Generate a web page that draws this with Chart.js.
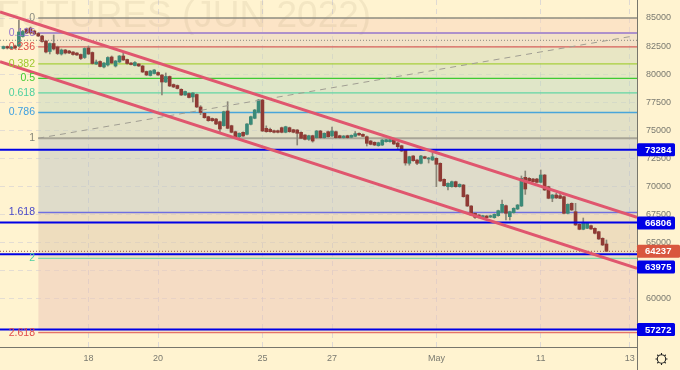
<!DOCTYPE html>
<html>
<head>
<meta charset="utf-8">
<script src="https://cdn.jsdelivr.net/npm/chart.js@4"></script>
<style>
  html, body { margin: 0; padding: 0; background: #fff3d0; }
  canvas { display: block; }
</style>
</head>
<body>
<canvas id="chart" width="680" height="370"></canvas>
<script>
const candleOpen = [
  82286, 82464, 82286, 82508, 82508, 83353, 84021, 84110, 83843, 83620,
  83398, 82953, 82018, 82730, 82419, 81796, 82152, 82063, 81974, 81885,
  81752, 81484, 82330, 81930, 80906, 81129, 80639, 80817, 81529, 80728,
  81084, 81618, 81306, 80995, 80772, 80906, 80728, 80238, 79882, 80060,
  80150, 79927, 79304, 79794, 79082, 78993, 78654, 78147, 78280, 77969,
  78192, 77079, 76518, 76216, 76056, 76011, 75771, 75415, 76723, 75415,
  74881, 74436, 74827, 74649, 75539, 76073, 76607, 77702, 75183, 75094,
  74970, 74970, 75237, 74827, 75237, 75059, 75032, 74827, 74587, 74205,
  74525, 74347, 74943, 74347, 74881, 74498, 74881, 74525, 74347, 74525,
  74382, 74471, 74738, 74649, 74436, 74053, 73937, 73635, 73697, 73991,
  73991, 74142, 73875, 73635, 73252, 72068, 72718, 72362, 72068, 72656,
  72451, 72362, 72513, 72068, 70644, 69986, 69986, 70431, 69986, 70137,
  69247, 68268, 67618, 67467, 67227, 67378, 67289, 67227, 67405, 67707,
  68295, 67316, 67672, 68001, 68268, 70822, 70733, 70671, 70671, 70377,
  71027, 69986, 68953, 69247, 69185, 69096, 67618, 68508, 67761, 66639,
  66194, 66283, 66515, 66283, 65980, 65393, 64886
];
const candleClose = [
  82464, 82330, 82419, 82330, 83754, 83800, 83665, 83665, 83576, 83398,
  82909, 81974, 82730, 82241, 81841, 82152, 81885, 81885, 81752, 81707,
  81395, 82286, 81796, 80950, 81084, 80684, 80995, 81484, 80995, 81173,
  81618, 81262, 80950, 80862, 81040, 80728, 80194, 79927, 80283, 80372,
  79927, 79304, 79794, 78948, 78859, 78726, 78147, 78459, 77925, 78325,
  77079, 76590, 76127, 75860, 75860, 75566, 75121, 76661, 75183, 74827,
  74436, 74738, 74498, 75566, 76216, 76812, 77702, 74943, 74881, 74881,
  74827, 74827, 74827, 75326, 74881, 74827, 74738, 74293, 74205, 74525,
  74053, 74943, 74347, 74738, 74436, 74943, 74347, 74347, 74498, 74347,
  74560, 74703, 74587, 74471, 73848, 73759, 73697, 73902, 74142, 74169,
  74169, 73786, 73546, 73163, 72095, 72656, 72300, 72068, 72718, 72513,
  72540, 72656, 71979, 70493, 70075, 70288, 70431, 69986, 70199, 69096,
  68268, 67467, 67262, 67289, 67405, 67227, 67405, 67529, 67850, 68419,
  67618, 67761, 68063, 68357, 70733, 69781, 70493, 70431, 70377, 71027,
  69692, 68953, 69247, 68987, 68953, 67618, 68419, 67912, 66577, 66194,
  66817, 66728, 66221, 65838, 65331, 64797, 64237
];
const candleHigh = [
  82508, 82510, 82464, 82600, 84822, 83900, 84110, 84200, 83930, 83700,
  83450, 83000, 82780, 83487, 82500, 82240, 82200, 82130, 82020, 81930,
  81800, 82350, 82508, 81980, 81262, 81180, 81040, 81550, 81620, 81220,
  81660, 81885, 81350, 81040, 81130, 80950, 80770, 80280, 80330, 80420,
  80200, 79970, 80105, 79840, 79130, 79040, 78700, 78500, 78330, 78370,
  78240, 77200, 76560, 76260, 76100, 76060, 75820, 76710, 77551, 75460,
  74930, 74780, 74870, 75610, 76260, 76860, 77750, 77750, 75400, 75200,
  75020, 75020, 75290, 75370, 75290, 75100, 75080, 74870, 74630, 74570,
  74570, 74990, 75000, 74780, 74930, 75300, 74930, 74570, 74540, 74570,
  74600, 74900, 74790, 74700, 74500, 74100, 73980, 73950, 74190, 74210,
  74300, 74190, 73950, 73680, 73300, 72700, 72760, 72410, 72770, 72700,
  72590, 73000, 72560, 72110, 70690, 70330, 70480, 70480, 70240, 70190,
  69290, 68310, 67660, 67510, 67450, 67420, 67450, 67570, 67900, 68802,
  68340, 67810, 68110, 68400, 70938, 71383, 70800, 70720, 70720, 71472,
  71070, 70030, 69290, 69400, 69400, 69140, 68460, 68550, 68508, 66680,
  67200, 66770, 66560, 66330, 66020, 65440, 65242
];
const candleLow = [
  82241, 82240, 82240, 82240, 82419, 83300, 83600, 83600, 83500, 83350,
  82850, 81890, 81800, 82150, 81750, 81700, 81800, 81830, 81700, 81660,
  81300, 81400, 81750, 80900, 80860, 80640, 80550, 80720, 80950, 80640,
  81040, 81220, 80900, 80820, 80730, 80680, 80150, 79880, 79840, 80020,
  79880, 78147, 79260, 78900, 78810, 78680, 78100, 78100, 77880, 77524,
  77030, 76400, 76080, 75810, 75800, 75500, 74800, 75370, 75140, 74780,
  74390, 74300, 74450, 74600, 75490, 76030, 76560, 74900, 74830, 74830,
  74780, 74780, 74780, 74780, 74830, 74780, 73697, 74250, 74160, 74110,
  73950, 74300, 74300, 74300, 74390, 74450, 74300, 74300, 74300, 74300,
  74340, 74430, 74540, 74430, 73608, 73710, 73650, 73590, 73650, 73950,
  73950, 73740, 73300, 73120, 71900, 71900, 72250, 71950, 72020, 72470,
  72095, 72320, 69986, 70450, 70030, 69692, 69940, 69940, 69940, 69050,
  68220, 67420, 67170, 67200, 67180, 67180, 67240, 67180, 67360, 67660,
  67022, 67022, 67630, 67950, 68220, 69300, 70450, 70390, 70330, 70330,
  69650, 68910, 68650, 68940, 68910, 67570, 67570, 67870, 66530, 66150,
  66150, 66240, 66180, 65790, 65290, 64750, 64200
];

const fibLevels = ['0', '0.125', '0.236', '0.382', '0.5', '0.618', '0.786', '1', '1.618', '2', '2.618'];
const fibPrices = [85000, 83663, 82425, 80913, 79620, 78340, 76590, 74300, 67691, 63604, 56993];
const fibLineColors = ['#8f8d80', '#9575cd', '#d9605a', '#a8cf3c', '#3fcb32', '#62d6a4', '#49a5da', '#a8a597', '#6f6fe0', '#80d9aa', '#e57368'];
const fibTextColors = ['#8a8a80', '#9575cd', '#df5048', '#a0c830', '#42cc32', '#4fd0a0', '#40a0e0', '#858578', '#4848c8', '#4fcfa0', '#e04c4c'];
const fibBands = [
  'rgba(249,213,188,.5)', 'rgba(231,209,192,.5)', 'rgba(209,217,184,.5)', 'rgba(201,219,184,.5)', 'rgba(193,217,192,.5)',
  'rgba(197,213,188,.5)', 'rgba(197,205,188,.5)', 'rgba(191,197,196,.5)', 'rgba(221,199,172,.5)', 'rgba(235,197,184,.5)'
];

const bluePrices = [73284, 66806, 63975, 57272];
const lastPrice = 64237;
const dottedPrice = 83015;

const channelUpper = [[-0.89, 85534], [163.9, 67262]];
const channelLower = [[-0.89, 81111], [163.9, 62723]];
const dashedTrend = [[9, 74300], [163, 83398]];

const xTickIdx = [22, 40, 67, 85, 112, 139, 162];
const xTickLabels = ['18', '20', '25', '27', 'May', '11', '13'];
const yTicks = [60000, 62500, 65000, 67500, 70000, 72500, 75000, 77500, 80000, 82500, 85000];

const xMin = -0.89, xMax = 163.9, fibStart = 9;
const chartFont = '"Liberation Sans", Arial, sans-serif';

const hline = (price, color, width, dash, order, from = xMin) => ({
  type: 'line',
  data: [{ x: from, y: price }, { x: xMax, y: price }],
  borderColor: color,
  borderWidth: width,
  borderDash: dash || [],
  pointRadius: 0,
  fill: false,
  order: order,
});

const seg = (points, color, width, dash, order) => ({
  type: 'line',
  data: points.map((p) => ({ x: p[0], y: p[1] })),
  borderColor: color,
  borderWidth: width,
  borderDash: dash || [],
  pointRadius: 0,
  fill: false,
  order: order,
});

const datasets = [];

fibPrices.forEach((p, i) => {
  const ds = hline(p, fibLineColors[i], i === 7 ? 2 : 1.3, null, 9, fibStart);
  if (i < fibBands.length) {
    ds.fill = '+1';
    ds.backgroundColor = fibBands[i];
  }
  datasets.push(ds);
});

datasets.push({
  type: 'bar',
  data: candleLow.map((l, i) => ({ x: i, y: [l, candleHigh[i]] })),
  backgroundColor: '#8b8678',
  barThickness: 1,
  grouped: false,
  order: 8,
});
datasets.push({
  type: 'bar',
  data: candleOpen.map((o, i) => ({ x: i, y: [o, candleClose[i]] })),
  backgroundColor: candleOpen.map((o, i) => (candleClose[i] >= o ? '#3b8a78' : '#8f3a34')),
  barThickness: 3,
  grouped: false,
  order: 7,
});

datasets.push(hline(dottedPrice, '#8a8a80', 1, [1, 2], 6));
datasets.push(hline(lastPrice, '#9a5a45', 1, [1, 2], 6));
bluePrices.forEach((p) => datasets.push(hline(p, '#0000e6', 2, null, 5)));
datasets.push(seg(dashedTrend, '#a09d92', 1, [6, 5], 4));
datasets.push(seg(channelUpper, '#e0566e', 3, null, 3));
datasets.push(seg(channelLower, '#e0566e', 3, null, 3));

const overlayPlugin = {
  id: 'overlay',
  beforeDatasetsDraw(chart) {
    const ctx = chart.ctx;
    ctx.save();
    ctx.font = '37px ' + chartFont;
    ctx.fillStyle = 'rgba(150,125,90,.11)';
    ctx.textBaseline = 'alphabetic';
    ctx.fillText('FUTURES (JUN 2022)', -3, 27);
    ctx.restore();
  },
  afterDraw(chart) {
    const ctx = chart.ctx;
    const y = chart.scales.y;
    const area = chart.chartArea;

    // fib labels left of the levels
    ctx.save();
    ctx.font = '10.5px ' + chartFont;
    ctx.textAlign = 'right';
    ctx.textBaseline = 'middle';
    fibLevels.forEach((lab, i) => {
      ctx.fillStyle = fibTextColors[i];
      ctx.fillText(lab, 35, y.getPixelForValue(fibPrices[i]));
    });
    ctx.restore();

    // price tags on the axis
    const tag = (price, color, right, shift) => {
      const cy = y.getPixelForValue(price) + shift;
      ctx.fillStyle = color;
      ctx.beginPath();
      ctx.roundRect(area.right, cy - 6.5, right - area.right, 13, 1.5);
      ctx.fill();
      ctx.fillStyle = '#fff';
      ctx.font = 'bold 9.5px ' + chartFont;
      ctx.textAlign = 'left';
      ctx.textBaseline = 'middle';
      ctx.fillText(String(price), area.right + 8, cy + 0.5);
    };
    ctx.save();
    tag(73284, '#0000e6', 675, 0);
    tag(66806, '#0000e6', 675, 0.5);
    tag(57272, '#0000e6', 675, 0);
    tag(lastPrice, '#d9573f', 680, 0);
    tag(63975, '#0000e6', 675, 12.8);
    ctx.restore();

    // axis line carries on under the corner, then the settings wheel
    ctx.save();
    ctx.strokeStyle = '#77766c';
    ctx.lineWidth = 1;
    ctx.beginPath();
    ctx.moveTo(area.right + 0.5, area.bottom);
    ctx.lineTo(area.right + 0.5, 370);
    ctx.stroke();
    const gx = 661.5, gy = 359;
    ctx.strokeStyle = '#222';
    ctx.lineWidth = 1.1;
    ctx.beginPath();
    ctx.arc(gx, gy, 4.2, 0, Math.PI * 2);
    for (let i = 0; i < 8; i++) {
      const a = (i * Math.PI) / 4;
      ctx.moveTo(gx + Math.cos(a) * 4.2, gy + Math.sin(a) * 4.2);
      ctx.lineTo(gx + Math.cos(a) * 6, gy + Math.sin(a) * 6);
    }
    ctx.stroke();
    ctx.restore();
  },
};

new Chart(document.getElementById('chart').getContext('2d'), {
  type: 'bar',
  data: { datasets: datasets },
  plugins: [overlayPlugin],
  options: {
    responsive: false,
    animation: false,
    layout: { padding: 0 },
    plugins: {
      legend: { display: false },
      tooltip: { enabled: false },
      filler: { drawTime: 'beforeDatasetsDraw' },
    },
    scales: {
      x: {
        type: 'linear',
        offset: false,
        min: xMin,
        max: xMax,
        afterBuildTicks: (s) => {
          s.ticks = xTickIdx.map((v) => ({ value: v }));
        },
        afterFit: (s) => {
          s.height = 23;
          s.paddingLeft = 0;
          s.paddingRight = 0;
        },
        ticks: {
          autoSkip: false,
          maxRotation: 0,
          padding: 6,
          color: '#7a7a70',
          font: { family: chartFont, size: 9 },
          callback: (v) => xTickLabels[xTickIdx.indexOf(v)],
        },
        grid: { color: 'rgba(195,195,215,.55)', drawTicks: false, offset: false },
        border: { color: '#77766c', dash: [5, 4] },
      },
      y: {
        position: 'right',
        min: 55719,
        max: 86602,
        afterBuildTicks: (s) => {
          s.ticks = yTicks.map((v) => ({ value: v }));
        },
        afterFit: (s) => {
          s.width = 43;
          s.paddingTop = 0;
          s.paddingBottom = 0;
        },
        ticks: {
          autoSkip: false,
          padding: 9,
          color: '#7a7a70',
          font: { family: chartFont, size: 9 },
          callback: (v) => String(v),
        },
        grid: { color: 'rgba(195,195,215,.45)', drawTicks: false },
        border: { color: '#77766c', dash: [5, 4] },
      },
    },
  },
});
</script>
</body>
</html>
